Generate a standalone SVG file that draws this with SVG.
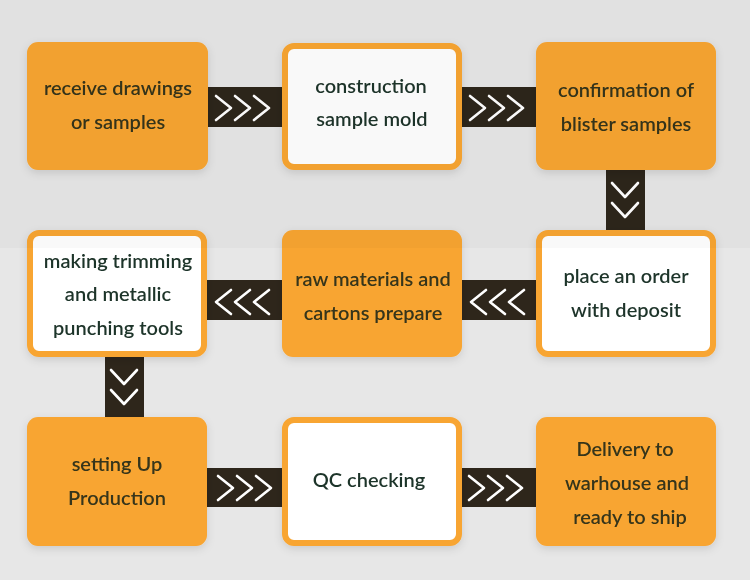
<svg xmlns="http://www.w3.org/2000/svg" width="750" height="580" viewBox="0 0 750 580">
<defs>
<filter id="sh" x="-20%" y="-20%" width="140%" height="150%">
<feDropShadow dx="0" dy="3" stdDeviation="4" flood-color="#000" flood-opacity="0.12"/>
</filter>
<path id="chevR" d="M0,-12 L15,0 L0,12" fill="none" stroke="#fff" stroke-width="2.6" stroke-linecap="round" stroke-linejoin="round"/>
<path id="chevL" d="M15,-12 L0,0 L15,12" fill="none" stroke="#fff" stroke-width="2.6" stroke-linecap="round" stroke-linejoin="round"/>
<path id="chevD" d="M-13,0 L0,14 L13,0" fill="none" stroke="#fff" stroke-width="2.6" stroke-linecap="round" stroke-linejoin="round"/>
</defs>
<style>
.bar{fill:#2e261b}
.org{fill:#f8a532}
.wht{fill:#ffffff;stroke:#f8a532;stroke-width:6}
text{font-family:Lato,"Noto Sans","Liberation Sans",sans-serif;font-size:20px;font-weight:600;text-anchor:middle}
.to{fill:#36351a}
.tw{fill:#1f342a}
</style>
<rect x="0" y="0" width="750" height="580" fill="#e7e7e7"/>
<g id="connectors">
<rect class="bar" x="205" y="87" width="80" height="40"/>
<use href="#chevR" x="216" y="108"/><use href="#chevR" x="235" y="108"/><use href="#chevR" x="254" y="108"/>
<rect class="bar" x="460" y="87" width="80" height="40"/>
<use href="#chevR" x="470" y="108"/><use href="#chevR" x="489" y="108"/><use href="#chevR" x="508" y="108"/>
<rect class="bar" x="606" y="168" width="39" height="64"/>
<use href="#chevD" x="625" y="183"/><use href="#chevD" x="625" y="203"/>
<rect class="bar" x="460" y="280" width="80" height="40"/>
<use href="#chevL" x="471" y="302"/><use href="#chevL" x="490" y="302"/><use href="#chevL" x="509" y="302"/>
<rect class="bar" x="205" y="280" width="80" height="40"/>
<use href="#chevL" x="216" y="302"/><use href="#chevL" x="235" y="302"/><use href="#chevL" x="254" y="302"/>
<rect class="bar" x="105" y="355" width="39" height="64"/>
<use href="#chevD" x="124" y="370"/><use href="#chevD" x="124" y="390"/>
<rect class="bar" x="205" y="468" width="80" height="39"/>
<use href="#chevR" x="218" y="488"/><use href="#chevR" x="237" y="488"/><use href="#chevR" x="256" y="488"/>
<rect class="bar" x="460" y="468" width="80" height="39"/>
<use href="#chevR" x="469" y="488"/><use href="#chevR" x="488" y="488"/><use href="#chevR" x="507" y="488"/>
</g>
<g id="n1" filter="url(#sh)"><rect class="org" x="27" y="42" width="181" height="128" rx="11"/>
<text class="to" x="118" y="95">receive drawings</text><text class="to" x="118" y="129">or samples</text></g>
<g id="n2" filter="url(#sh)"><rect class="wht" x="285" y="46" width="174" height="121" rx="9"/>
<text class="tw" x="371" y="93">construction</text><text class="tw" x="372" y="126">sample mold</text></g>
<g id="n3" filter="url(#sh)"><rect class="org" x="536" y="42" width="180" height="128" rx="11"/>
<text class="to" x="626" y="97">confirmation of</text><text class="to" x="626" y="131">blister samples</text></g>
<g id="n4" filter="url(#sh)"><rect class="wht" x="539" y="233" width="174" height="121" rx="9"/>
<text class="tw" x="626" y="283">place an order</text><text class="tw" x="626" y="317">with deposit</text></g>
<g id="n5" filter="url(#sh)"><rect class="org" x="282" y="230" width="180" height="127" rx="11"/>
<text class="to" x="373" y="286">raw materials and</text><text class="to" x="373" y="320">cartons prepare</text></g>
<g id="n6" filter="url(#sh)"><rect class="wht" x="30" y="233" width="174" height="121" rx="9"/>
<text class="tw" x="118" y="268">making trimming</text><text class="tw" x="118" y="301">and metallic</text><text class="tw" x="118" y="335">punching tools</text></g>
<g id="n7" filter="url(#sh)"><rect class="org" x="27" y="417" width="180" height="129" rx="11"/>
<text class="to" x="117" y="471">setting Up</text><text class="to" x="117" y="505">Production</text></g>
<g id="n8" filter="url(#sh)"><rect class="wht" x="285" y="420" width="174" height="123" rx="9"/>
<text class="tw" x="369" y="487">QC checking</text></g>
<g id="n9" filter="url(#sh)"><rect class="org" x="536" y="417" width="180" height="129" rx="11"/>
<text class="to" x="625" y="456">Delivery to</text><text class="to" x="627" y="490">warhouse and</text><text class="to" x="630" y="524">ready to ship</text></g>
<rect x="0" y="0" width="750" height="248" fill="#000" opacity="0.025"/>
</svg>
